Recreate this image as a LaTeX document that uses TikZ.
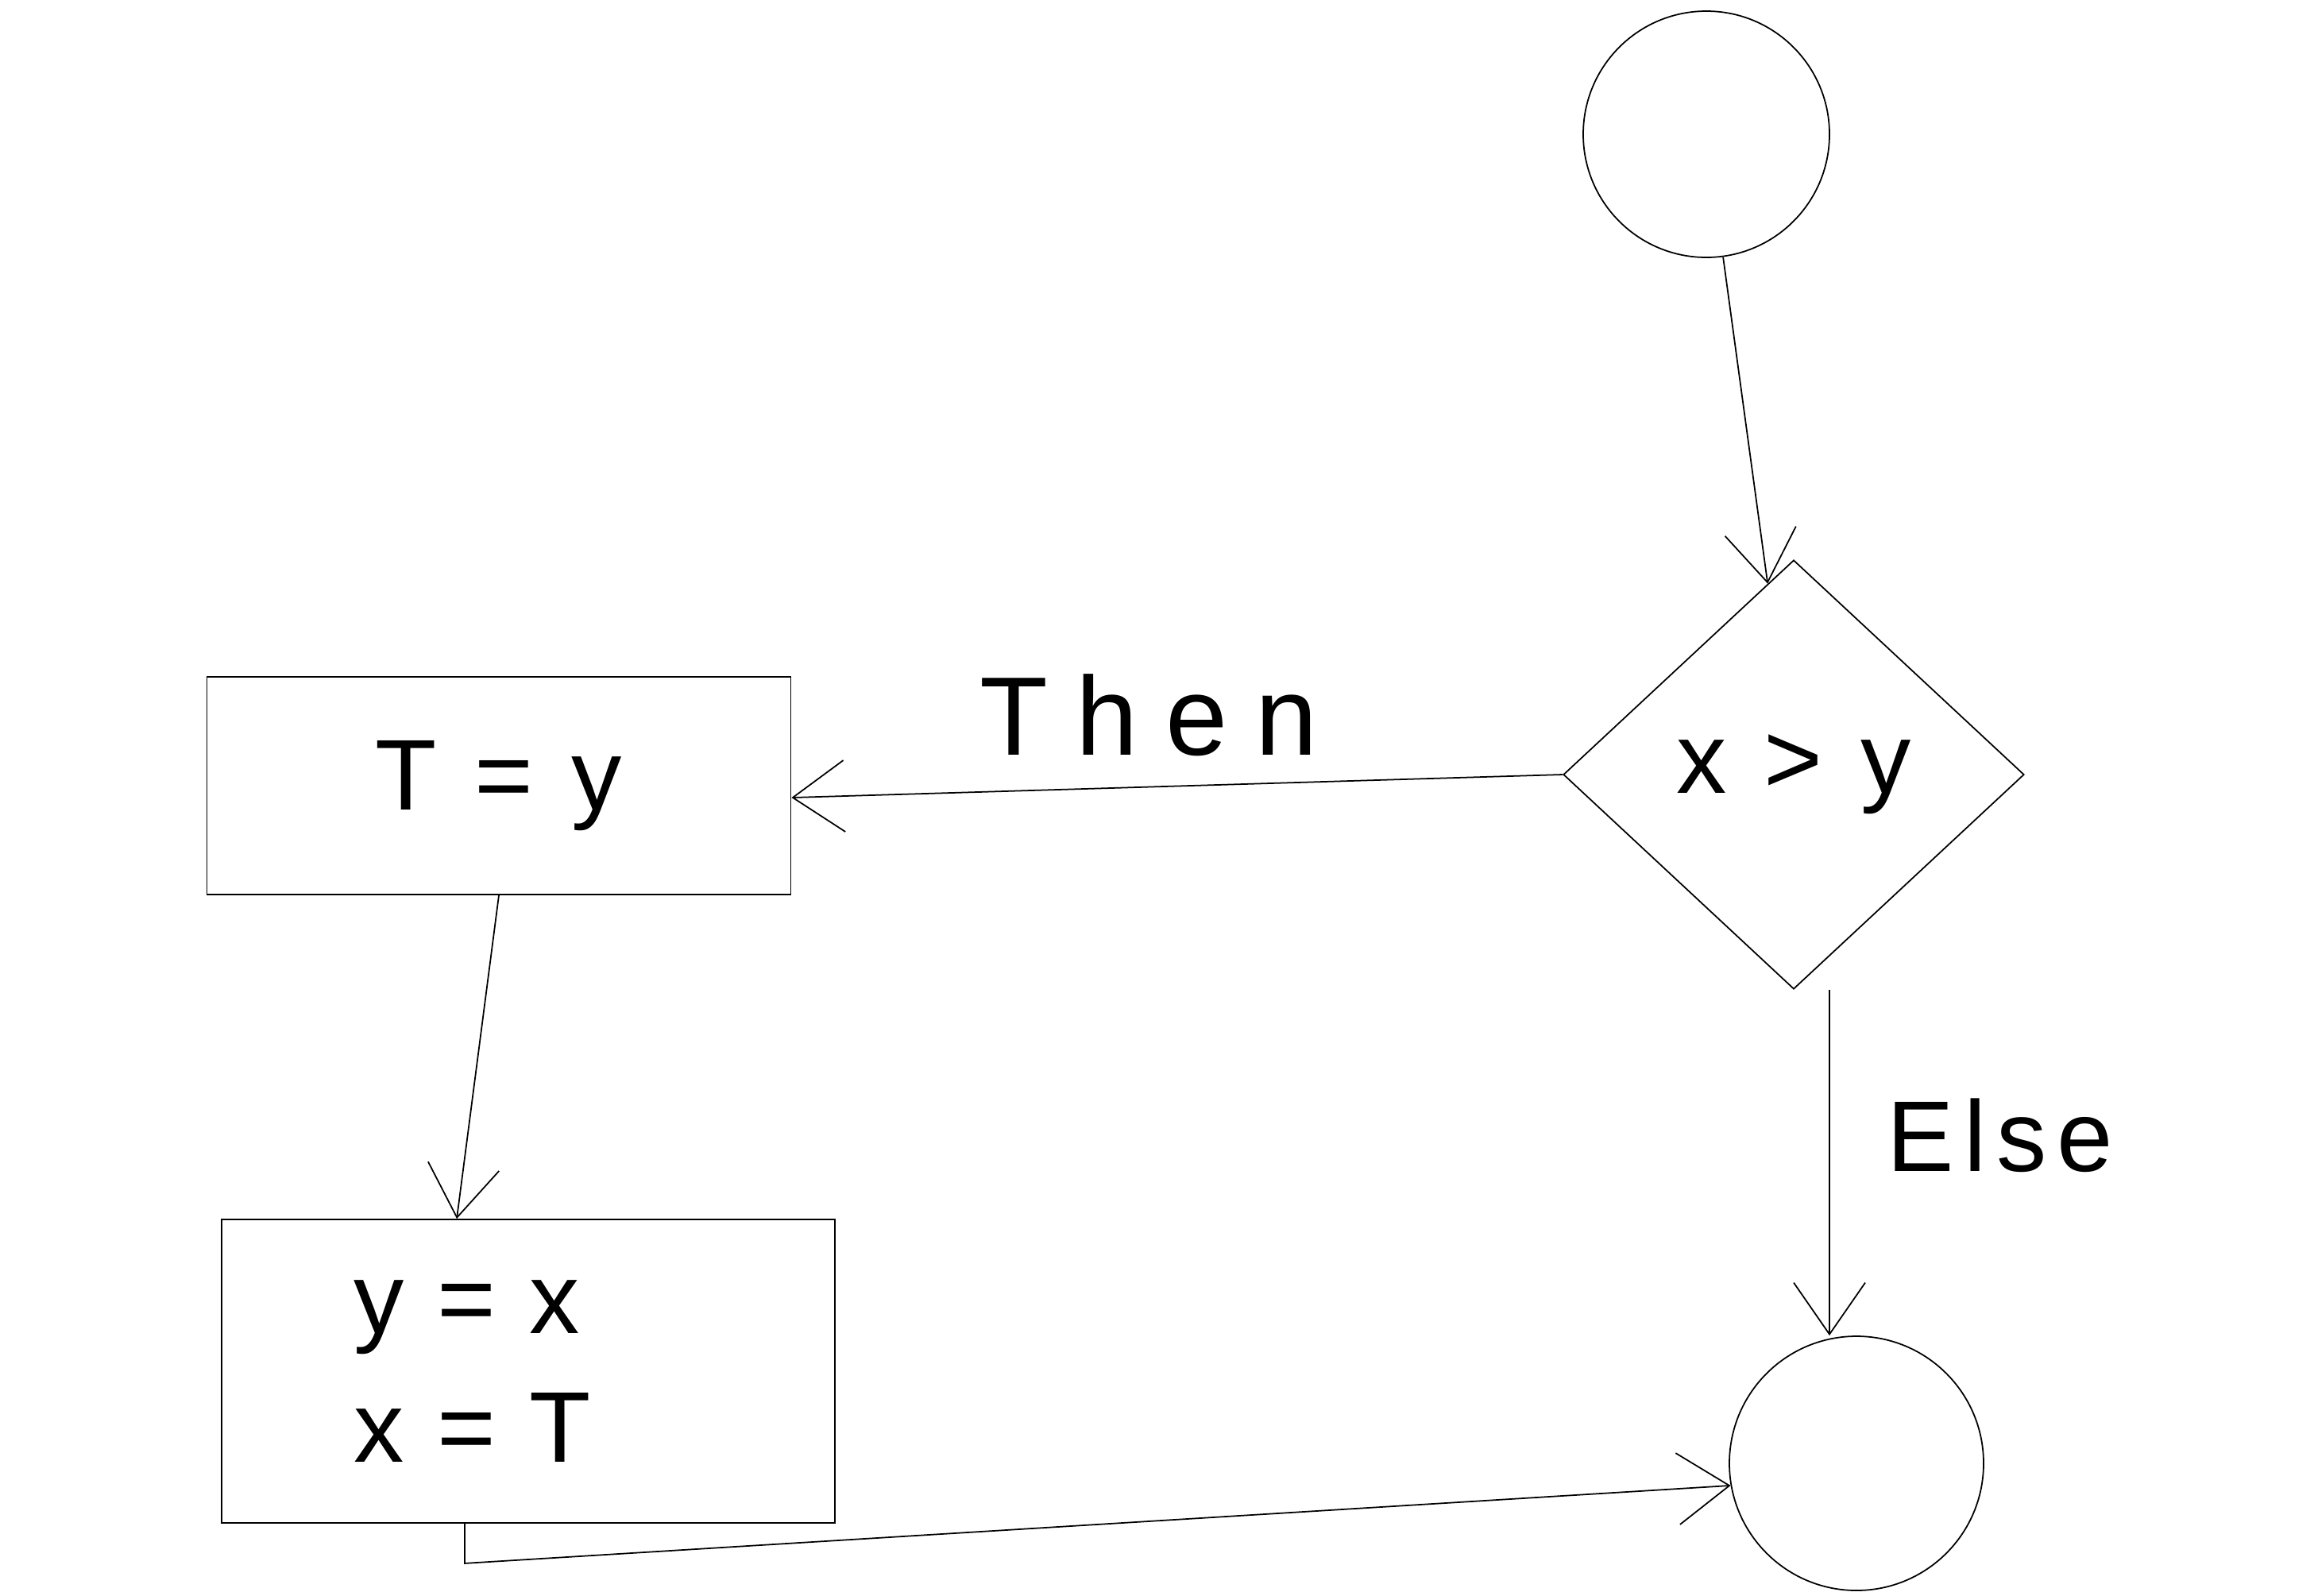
\documentclass[tikz,border=0pt]{standalone}
\usepackage{fontspec}
\setmainfont{Liberation Sans}
\newfontfamily\hand[LetterSpace=10]{Liberation Sans}
\newfontfamily\handwide[LetterSpace=25]{Liberation Sans}
\usetikzlibrary{arrows.meta,shapes.geometric}

\begin{document}
\begin{tikzpicture}[
  line width=0.5pt,
  flow/.style={-{Straight Barb[length=6.5mm,width=9mm]}},
  term/.style={draw, circle, minimum size=3.1cm},
  cond/.style={draw, diamond, minimum width=5.8cm, minimum height=5.4cm, inner sep=0pt},
  act/.style={draw, rectangle, inner sep=0pt},
  txt/.style={font=\hand\fontsize{36}{46}\selectfont}
]
\useasboundingbox (0,0) rectangle (29.18,-20.08);
\node[term] (start) at (21.48,-1.69) {};
\node[cond, txt] (cmp) at (22.58,-9.75) {x > y};
\node[act, txt, minimum width=7.35cm, minimum height=2.74cm] (b1) at (6.28,-9.89) {T = y};
\node[act, txt, minimum width=7.72cm, minimum height=3.82cm, text width=4.4cm, align=left] (b2) at (6.65,-17.26) {y = x\\x = T};
\node[term, minimum size=3.2cm] (stop) at (23.37,-18.42) {};
\node[font=\handwide\fontsize{40}{48}\selectfont] (then) at (14.46,-9.0) {Then};
\node[txt] (else) at (25.18,-14.29) {Else};

\draw[flow] (cmp.west) -- ([yshift=-1.5mm]b1.east);
\draw[flow] (start) -- (cmp);
\draw[flow] (b1.south) -- ([xshift=-9mm]b2.north);
\draw[flow] ([xshift=4.5mm]cmp.south) -- ([xshift=4.5mm]cmp.south |- stop.north);
\draw[flow] ([xshift=-8mm]b2.south) -- ++(0,-0.5) -- (stop.190);
\end{tikzpicture}
\end{document}
